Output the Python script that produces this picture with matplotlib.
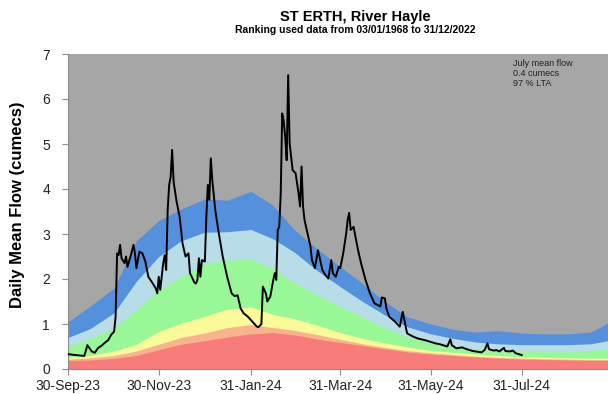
import matplotlib
matplotlib.use("Agg")
import matplotlib.pyplot as plt
import matplotlib.dates as mdates
import pandas as pd

plt.rcParams['font.family'] = ['Liberation Sans', 'DejaVu Sans']

start = pd.Timestamp("2023-09-30")

# percentile band tops (cumecs), days after 30-Sep-23
band_days = [0, 15, 31, 46, 61, 76, 92, 107, 123, 138, 152, 167, 183, 198,
             213, 228, 244, 259, 274, 289, 305, 320, 336, 351, 358, 366]
red_top = [0.19, 0.2, 0.24, 0.3, 0.43, 0.55, 0.63, 0.71, 0.78, 0.81, 0.76, 0.67, 0.59,
           0.52, 0.45, 0.38, 0.33, 0.3, 0.27, 0.24, 0.22, 0.21, 0.2, 0.19, 0.19, 0.19]
orange_top = [0.22, 0.25, 0.3, 0.4, 0.55, 0.7, 0.8, 0.92, 0.99, 0.92, 0.86, 0.77, 0.66,
              0.56, 0.48, 0.41, 0.36, 0.32, 0.28, 0.26, 0.24, 0.23, 0.22, 0.21, 0.21, 0.21]
yellow_top = [0.26, 0.3, 0.4, 0.55, 0.83, 1.02, 1.17, 1.33, 1.38, 1.21, 1.12, 0.98, 0.81,
              0.68, 0.58, 0.49, 0.41, 0.37, 0.33, 0.3, 0.27, 0.26, 0.25, 0.24, 0.24, 0.24]
green_top = [0.5, 0.68, 0.92, 1.32, 1.75, 2.05, 2.35, 2.42, 2.44, 2.23, 1.92, 1.66, 1.39,
             1.16, 0.92, 0.71, 0.58, 0.5, 0.45, 0.42, 0.41, 0.4, 0.39, 0.41, 0.43, 0.45]
lblue_top = [0.7, 0.9, 1.25, 1.95, 2.5, 2.85, 3.04, 3.05, 3.1, 2.89, 2.6, 2.2, 1.83,
             1.5, 1.2, 0.94, 0.78, 0.68, 0.6, 0.56, 0.54, 0.54, 0.54, 0.56, 0.6, 0.65]
blue_top = [1.05, 1.4, 1.8, 2.85, 3.3, 3.55, 3.78, 3.75, 3.95, 3.63, 3.1, 2.68, 2.27,
            1.9, 1.5, 1.16, 1.0, 0.88, 0.82, 0.85, 0.8, 0.78, 0.78, 0.82, 0.93, 1.1]

# daily mean flow, days after 30-Sep-23
flow_days = [0, 5, 11, 13, 16, 18, 20, 23, 25, 27, 29, 31, 32, 33, 34, 35, 36, 38, 39, 40,
             42, 44, 45, 46, 48, 50, 52, 54, 57, 59, 60, 61, 62, 64, 65, 66, 67, 68, 69, 70,
             71, 73, 75, 77, 79, 81, 82, 85, 86, 87, 88, 89, 90, 92, 93, 94, 95, 96, 97, 99,
             101, 104, 107, 110, 112, 114, 116, 118, 121, 124, 127, 128, 130, 131, 133, 134,
             136, 138, 139, 140, 141, 142, 143, 144, 145, 146, 147, 148, 149, 151, 153, 155,
             156, 157, 158, 159, 161, 163, 164, 166, 168, 169, 171, 173, 175, 177, 178, 180,
             182, 183, 185, 187, 188, 189, 190, 192, 193, 195, 197, 200, 203, 206, 210, 211,
             213, 214, 216, 220, 223, 225, 227, 228, 232, 235, 240, 244, 247, 250, 255, 257,
             258, 261, 265, 268, 272, 278, 280, 282, 283, 286, 288, 290, 293, 294, 297, 299,
             301, 305]
flow_vals = [0.33, 0.31, 0.29, 0.53, 0.39, 0.36, 0.46, 0.53, 0.59, 0.64, 0.76, 0.83, 1.16,
             2.57, 2.53, 2.76, 2.46, 2.35, 2.5, 2.27, 2.5, 2.76, 2.57, 2.24, 2.61, 2.57, 2.39,
             2.05, 1.9, 1.79, 1.68, 2.05, 1.76, 2.35, 2.53, 2.2, 3.53, 4.09, 4.27, 4.87, 4.16,
             3.72, 3.39, 2.79, 2.5, 2.57, 2.13, 1.92, 1.9, 1.98, 2.46, 2.05, 2.42, 2.39, 3.39,
             4.09, 3.76, 4.68, 4.2, 3.53, 3.09, 2.5, 2.05, 1.68, 1.62, 1.64, 1.35, 1.24, 1.16,
             1.05, 0.94, 0.93, 1.0, 1.83, 1.68, 1.5, 1.61, 1.98, 2.13, 1.98, 3.09, 3.16, 3.9,
             5.68, 5.5, 5.16, 4.64, 6.53, 5.01, 4.42, 4.35, 3.9, 3.61, 4.5, 3.61, 3.31, 3.01,
             2.72, 2.42, 2.24, 2.64, 2.5, 2.2, 2.09, 2.01, 2.42, 2.13, 2.05, 2.27, 2.24, 2.57,
             3.01, 3.31, 3.47, 3.09, 3.16, 2.98, 2.64, 2.35, 1.98, 1.68, 1.46, 1.39, 1.59, 1.57,
             1.35, 1.16, 1.05, 0.94, 1.27, 0.94, 0.79, 0.72, 0.68, 0.64, 0.6, 0.57, 0.55, 0.5,
             0.66, 0.53, 0.46, 0.48, 0.44, 0.4, 0.37, 0.42, 0.57, 0.44, 0.41, 0.42, 0.39, 0.47,
             0.4, 0.39, 0.41, 0.35, 0.31]

tick_dates = ["2023-09-30", "2023-11-30", "2024-01-31", "2024-03-31", "2024-05-31", "2024-07-31"]

band_x = start + pd.to_timedelta(band_days, unit="D")
flow_x = start + pd.to_timedelta(flow_days, unit="D")

fig = plt.figure(figsize=(6.08, 3.94), dpi=100)
ax = fig.add_axes([68 / 608, 25 / 394, 540 / 608, 315 / 394])
ax.set_facecolor("#a6a6a6")

layers = [(blue_top, "#5590dc"), (lblue_top, "#b8dce8"), (green_top, "#98f898"),
          (yellow_top, "#fafa98"), (orange_top, "#f8b48c"), (red_top, "#f87c7c")]
for tops, col in layers:
    ax.fill_between(band_x, 0, tops, color=col, linewidth=0, zorder=1)

ax.plot(flow_x, flow_vals, color="black", linewidth=1.4, zorder=3)

ax.set_ylim(0, 7)
ax.set_xlim(start, start + pd.Timedelta(days=363))
ax.set_xticks(pd.to_datetime(tick_dates))
ax.xaxis.set_major_formatter(mdates.DateFormatter("%d-%b-%y"))
ax.set_yticks(range(8))

for side in ["top", "right"]:
    ax.spines[side].set_visible(False)
for side in ["left", "bottom"]:
    ax.spines[side].set_color("#8c8c8c")
ax.tick_params(colors="#8c8c8c", labelcolor="#222222", labelsize=10, length=4)
ax.tick_params(axis="y", pad=9)

ax.text(0.824, 0.985, "July mean flow\n0.4 cumecs\n97 % LTA", transform=ax.transAxes,
        fontsize=6.5, va="top", ha="left", color="#222222", linespacing=1.15)

fig.text(355 / 608, 1 - 17 / 394, "ST ERTH, River Hayle", ha="center", va="center",
         fontsize=10.5, fontweight="bold")
fig.text(355 / 608, 1 - 30 / 394, "Ranking used data from 03/01/1968 to 31/12/2022",
         ha="center", va="center", fontsize=7.5, fontweight="bold")
fig.text(18 / 608, 1 - 205 / 394, "Daily Mean Flow (cumecs)", rotation=90,
         ha="center", va="center", fontsize=12, fontweight="bold")

fig.savefig("out.png", dpi=100)
